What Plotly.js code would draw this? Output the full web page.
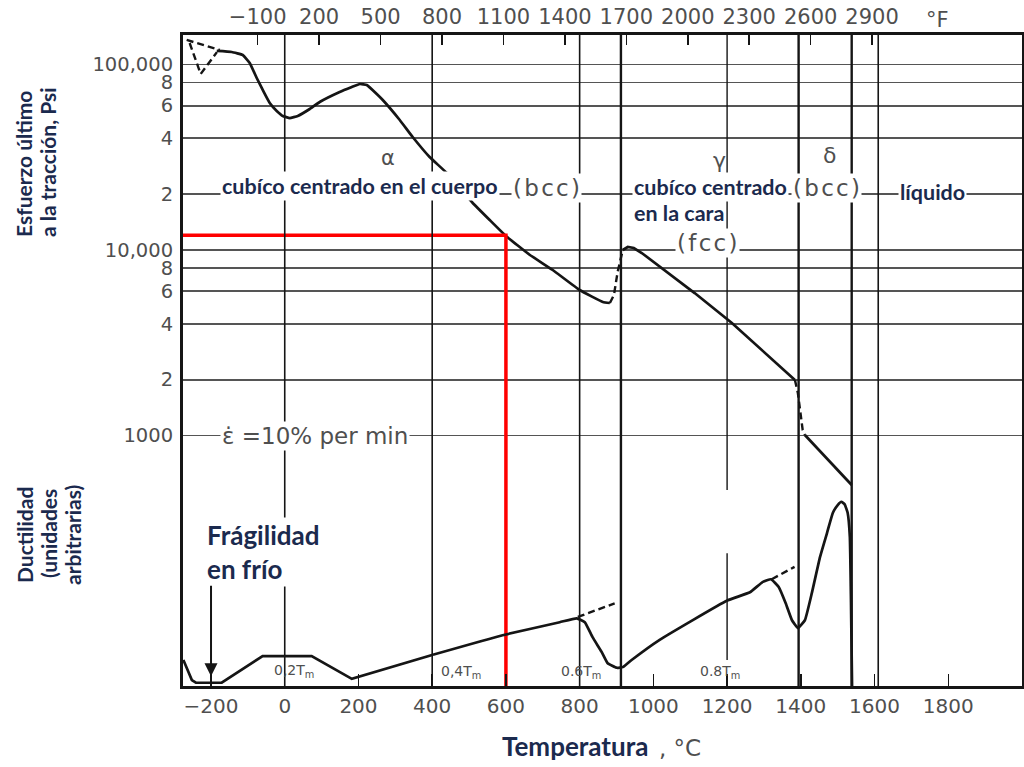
<!DOCTYPE html>
<html><head><meta charset="utf-8">
<script src="https://cdn.plot.ly/plotly-3.0.1.min.js"></script>
<style>html,body{margin:0;padding:0;background:#fff}#chart{width:1024px;height:767px}</style>
</head><body><div id="chart"></div>
<script>
// ---------- axes ----------
const xRangeC = [-276, 2000];
const celsiusTicks = [-200, 0, 200, 400, 600, 800, 1000, 1200, 1400, 1600, 1800];
const fahrenheitTicks = [-100, 200, 500, 800, 1100, 1400, 1700, 2000, 2300, 2600, 2900];
const strengthTicks = [1000, 2000, 4000, 6000, 8000, 10000, 20000, 40000, 60000, 80000, 100000];
const strengthTickText = ["1000", "2", "4", "6", "8", "10,000", "2", "4", "6", "8", "100,000"];
const strengthRangeLog = [1.6496, 5.159];
const ductilityRange = [0, 100];

// ---------- reference lines (°C) ----------
const gridLinesC = [0, 400, 800, 1610];
const partialLineC = 1200;
const phaseLinesC = [912, 1394, 1538];

// ---------- tensile strength (psi) ----------
const dashUpperT = [-266, -176];
const dashUpperPsi = [135600, 119700];
const dashVT = [-258, -228, -184];
const dashVPsi = [130600, 88900, 116600];

const solid1T = [-184.5, -143.8, -114, -95, -76, -57, -40.7, -21.7, -5.4, 13.6, 35.3, 67.8, 94.9, 149, 182, 203.5, 222.5, 249.6, 265.9, 312, 347, 393, 439.5, 510, 556, 600, 665, 727, 800, 863, 882];
const solid1Psi = [118300, 116800, 112500, 101900, 84600, 71100, 62000, 56150, 52780, 51450, 52780, 57560, 62800, 71100, 75620, 78500, 77530, 69340, 64360, 50220, 40670, 31720, 26010, 17920, 14510, 11900, 9400, 7800, 6085, 5245, 5180];

const dashBT = [882, 893, 903, 917];
const dashBPsi = [5180, 5720, 7610, 10000];

const solid2T = [917, 930.5, 947, 968.5, 1112, 1213, 1384];
const solid2Psi = [10000, 10380, 10250, 9630, 5860, 4042, 1992];

const dashCT = [1384, 1392, 1405, 1411];
const dashCPsi = [1992, 1695, 1071, 1006];

const solid3T = [1411, 1538];
const solid3Psi = [1006, 541];

// ---------- ductility (arbitrary units) ----------
const ductLeftT = [-275, -252, -241, -171, -60, 73, 182, 402];
const ductLeftVal = [4.0, 0.9, 0.5, 0.5, 4.6, 4.6, 1.1, 4.8];
const ductRightT = [402, 591, 746, 792, 814, 835, 860, 876, 901, 917, 941, 1017, 1199, 1262, 1297, 1319, 1340, 1359, 1376, 1392, 1411, 1430, 1452, 1471, 1487, 1500, 1510, 1519, 1527, 1533, 1536, 1539];
const ductRightVal = [4.8, 7.8, 9.8, 10.4, 9.8, 7.5, 5.2, 3.5, 2.8, 2.9, 4.0, 7.1, 13.1, 14.4, 16.0, 16.4, 15.2, 12.7, 10.1, 8.9, 10.1, 14.3, 19.8, 23.5, 26.6, 27.8, 28.3, 27.9, 26.6, 22.9, 13.2, 0];
const ductDash1T = [795, 895];
const ductDash1Val = [10.6, 12.7];
const ductDash2T = [1321, 1383];
const ductDash2Val = [16.4, 18.3];

// ---------- red marker ----------
const markerTemp = 600;
const markerStrength = 12000;
const coldBrittleTemp = -200;
const coldBrittleDuct = 1.5;

// ---------- helpers ----------
const c2f = c => c * 9 / 5 + 32;
const L = 183, R = 1022, T = 35, B = 686;
const px = x => (x - L) / (R - L);
const py = y => (B - y) / (B - T);

const BLACK = '#151515';
const NAVY = '#1b2a4e';
const GRAY = '#4f4f4f';
const HS = '\u200A';

function vlineTrace(vals, width) {
  const x = [], y = [];
  vals.forEach(v => { x.push(v, v, null); y.push(ductilityRange[0], ductilityRange[1], null); });
  return {x, y, yaxis: 'y2', mode: 'lines', line: {color: BLACK, width: width}, hoverinfo: 'skip'};
}

const traces = [];
// invisible trace so that the °F axis is drawn
traces.push({x: fahrenheitTicks, y: fahrenheitTicks.map(() => markerStrength), xaxis: 'x2', yaxis: 'y', mode: 'markers', marker: {opacity: 0, size: 1}, hoverinfo: 'skip'});
traces.push(vlineTrace(gridLinesC, 1.6));
traces.push({x: [partialLineC, partialLineC, null, partialLineC, partialLineC], y: [30.1, 100, null, 4, 20.4], yaxis: 'y2', mode: 'lines', line: {color: BLACK, width: 1.4}});
traces.push(vlineTrace(phaseLinesC, 2.4));

const solid = {color: BLACK, width: 2.7};
const dashed = {color: BLACK, width: 2.4, dash: '7px,4px'};
function sTrace(x, y, line, axis) { return {x, y, yaxis: axis || 'y', mode: 'lines', line: line, hoverinfo: 'skip'}; }

traces.push(sTrace(dashUpperT, dashUpperPsi, dashed));
traces.push(sTrace(dashVT, dashVPsi, dashed));
traces.push(sTrace(solid1T, solid1Psi, Object.assign({}, solid, {shape: 'spline', smoothing: 0.3})));
traces.push(sTrace(dashBT, dashBPsi, dashed));
traces.push(sTrace(solid2T, solid2Psi, solid));
traces.push(sTrace(dashCT, dashCPsi, dashed));
traces.push(sTrace(solid3T, solid3Psi, solid));

traces.push(sTrace(ductLeftT, ductLeftVal, solid, 'y2'));
traces.push(sTrace(ductRightT, ductRightVal, Object.assign({}, solid, {shape: 'spline', smoothing: 0.35}), 'y2'));
traces.push(sTrace(ductDash1T, ductDash1Val, dashed, 'y2'));
traces.push(sTrace(ductDash2T, ductDash2Val, dashed, 'y2'));

// red marker lines
traces.push({x: [xRangeC[0], markerTemp, markerTemp], y: [markerStrength, markerStrength, Math.pow(10, strengthRangeLog[0])], yaxis: 'y', mode: 'lines', line: {color: '#ff0000', width: 3.5}, hoverinfo: 'skip'});

// ---------- annotations ----------
const navyFont = (s, bold) => ({family: 'Lato, "Open Sans", sans-serif', size: s, color: NAVY, weight: bold ? 'bold' : 'normal'});
const grayFont = s => ({family: '"DejaVu Sans", sans-serif', size: s, color: GRAY});

function txt(text, x, y, font, opts) {
  return Object.assign({text: text, xref: 'paper', yref: 'paper', x: px(x), y: py(y), xanchor: 'center', yanchor: 'middle', showarrow: false, font: font}, opts || {});
}
const spaced = s => '(' + HS + s.split('').join(HS) + HS + ')';

const ann = [
  txt('Esfuerzo último', 23, 164, navyFont(21, true), {textangle: -90}),
  txt('a la tracción, Psi', 47, 162, navyFont(21, true), {textangle: -90}),
  txt('Ductilidad', 24, 535, navyFont(21, true), {textangle: -90}),
  txt('(unidades', 48, 534, navyFont(21, true), {textangle: -90}),
  txt('arbitrarias)', 72, 535, navyFont(21, true), {textangle: -90}),
  txt('cubíco centrado en el cuerpo', 220, 186, navyFont(21.5, true), {xanchor: 'left', bgcolor: '#ffffff'}),
  txt(spaced('bcc'), 546, 188, grayFont(23), {bgcolor: '#ffffff'}),
  txt('cubíco centrado', 632, 187, navyFont(21.5, true), {xanchor: 'left', bgcolor: '#ffffff'}),
  txt('en la cara', 632, 213, navyFont(21.5, true), {xanchor: 'left', bgcolor: '#ffffff'}),
  txt(spaced('bcc'), 826, 188, grayFont(23), {bgcolor: '#ffffff'}),
  txt('líquido', 932, 192, navyFont(21.5, true), {bgcolor: '#ffffff'}),
  txt(spaced('fcc'), 707, 243, grayFont(23), {bgcolor: '#ffffff'}),
  txt('α', 388, 158, grayFont(21)),
  txt('γ', 719, 160, grayFont(22)),
  txt('δ', 829, 155, grayFont(22)),
  txt('\u03B5\u0307 =10% per min', 220, 436, grayFont(23), {xanchor: 'left', bgcolor: '#ffffff'}),
  txt('Frágilidad<br>en frío', 205, 552, navyFont(26, true), {xanchor: 'left', align: 'left', bgcolor: '#ffffff'}),
  txt('0,2T<sub>m</sub>', 294, 671, grayFont(14)),
  txt('0,4T<sub>m</sub>', 461, 672, grayFont(14)),
  txt('0.6T<sub>m</sub>', 581, 672, grayFont(14)),
  txt('0.8T<sub>m</sub>', 720, 672, grayFont(14)),
  txt('°F', 937, 20, grayFont(21)),
  txt('Temperatura', 575, 746, navyFont(26, true)),
  txt(', °C', 680, 748, grayFont(23)),
  {x: coldBrittleTemp, y: coldBrittleDuct, xref: 'x', yref: 'y2', text: '', showarrow: true, ax: 0, ay: -92, arrowhead: 2, arrowsize: 1.3, arrowwidth: 2, arrowcolor: BLACK}
];

const tickFont = {family: '"DejaVu Sans", sans-serif', size: 20, color: GRAY};

const layout = {
  width: 1024, height: 767,
  margin: {l: L, r: 1024 - R, t: T, b: 767 - B, pad: 0},
  paper_bgcolor: '#ffffff', plot_bgcolor: '#ffffff',
  showlegend: false, hovermode: false,
  xaxis: {range: xRangeC, tickvals: celsiusTicks, ticks: 'inside', ticklen: 12, tickwidth: 1.5, tickcolor: BLACK,
          showline: true, linewidth: 3, linecolor: BLACK, showgrid: false, zeroline: false,
          tickfont: tickFont, ticklabelstandoff: 0},
  xaxis2: {overlaying: 'x', side: 'top', anchor: 'y', range: xRangeC.map(c2f), tickvals: fahrenheitTicks,
           ticks: 'inside', ticklen: 10, tickwidth: 1.5, tickcolor: BLACK,
           showline: true, linewidth: 3, linecolor: BLACK, showgrid: false, zeroline: false,
           tickfont: Object.assign({}, tickFont, {size: 21}), ticklabelstandoff: 0},
  yaxis: {type: 'log', range: strengthRangeLog, tickvals: strengthTicks, ticktext: strengthTickText,
          ticks: '', showgrid: true, gridcolor: '#555555', gridwidth: 1.8,
          showline: true, linewidth: 3, linecolor: BLACK, zeroline: false,
          tickfont: Object.assign({}, tickFont, {size: 19.5}), ticklabelstandoff: 3},
  yaxis2: {overlaying: 'y', side: 'right', range: ductilityRange, showgrid: false, zeroline: false,
           showticklabels: false, ticks: '', showline: true, linewidth: 2, linecolor: BLACK},
  annotations: ann
};

Plotly.newPlot('chart', traces, layout, {displayModeBar: false, staticPlot: true});
</script>
</body></html>
